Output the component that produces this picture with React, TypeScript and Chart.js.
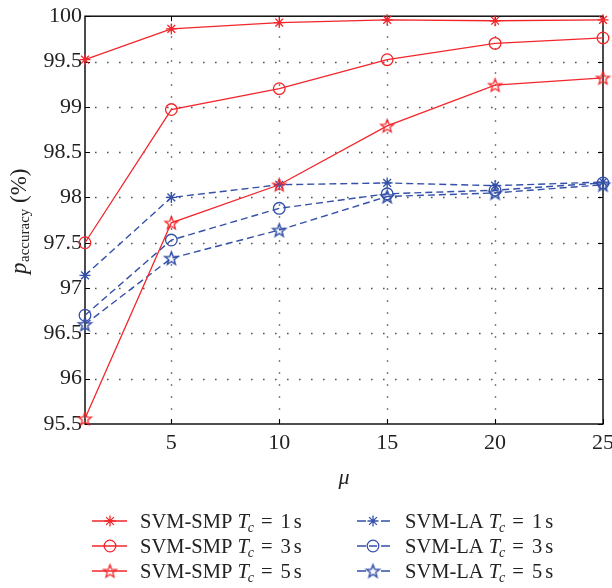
import React, { useEffect, useRef } from 'react';
import { Chart, registerables } from 'chart.js';

Chart.register(...registerables);

// ---------- data ----------
const muValues = [1, 5, 10, 15, 20, 25];
const xTickValues = [5, 10, 15, 20, 25];
const yMin = 95.5;
const yMax = 100;
const yStep = 0.5;

const smpTc1 = [99.52, 99.86, 99.93, 99.96, 99.95, 99.96];
const smpTc3 = [97.5, 98.97, 99.2, 99.52, 99.7, 99.76];
const smpTc5 = [95.56, 97.72, 98.14, 98.79, 99.24, 99.32];
const laTc1 = [97.14, 98.0, 98.14, 98.16, 98.13, 98.17];
const laTc3 = [96.7, 97.53, 97.88, 98.04, 98.08, 98.16];
const laTc5 = [96.6, 97.33, 97.64, 98.01, 98.05, 98.14];

const legendMethods = ['SVM-SMP', 'SVM-SMP', 'SVM-SMP', 'SVM-LA', 'SVM-LA', 'SVM-LA'];
const legendTc = ['1', '3', '5', '1', '3', '5'];

const RED = '#f2262b';
const BLUE = '#3450a8';
const FONT = '"Liberation Serif", "Times New Roman", serif';

function makePentagram(color: string, r: number, lw: number): HTMLCanvasElement {
  const s = Math.ceil(r * 2 + lw * 2 + 2);
  const c = document.createElement('canvas');
  c.width = s;
  c.height = s;
  const ctx = c.getContext('2d')!;
  ctx.strokeStyle = color;
  ctx.lineWidth = lw;
  ctx.lineJoin = 'miter';
  ctx.beginPath();
  for (let i = 0; i < 10; i++) {
    const ang = -Math.PI / 2 + (i * Math.PI) / 5;
    const rr = i % 2 === 0 ? r : r * 0.42;
    const x = s / 2 + rr * Math.cos(ang);
    const y = s / 2 + 0.6 + rr * Math.sin(ang);
    if (i === 0) ctx.moveTo(x, y);
    else ctx.lineTo(x, y);
  }
  ctx.closePath();
  ctx.stroke();
  return c;
}

export default function App() {
  const ref = useRef<HTMLCanvasElement | null>(null);

  useEffect(() => {
    const canvas = ref.current!;
    const redStar = makePentagram(RED, 6.8, 1.3);
    const blueStar = makePentagram(BLUE, 6.8, 1.5);

    const mk = (vals: number[]) => muValues.map((x, i) => ({ x, y: vals[i] }));

    const seriesData = [smpTc1, smpTc3, smpTc5, laTc1, laTc3, laTc5];
    const styles: any[] = [
      { color: RED, point: 'star', radius: 5.5, dash: [] },
      { color: RED, point: 'circle', radius: 5.8, dash: [] },
      { color: RED, point: redStar, radius: 6, dash: [] },
      { color: BLUE, point: 'star', radius: 5.5, dash: [] as number[] },
      { color: BLUE, point: 'circle', radius: 5.8, dash: [] as number[] },
      { color: BLUE, point: blueStar, radius: 6, dash: [] as number[] },
    ];
    styles[3].dash = [7, 4];
    styles[4].dash = [7, 4];
    styles[5].dash = [7, 4];

    const datasets = seriesData.map((vals, i) => ({
      label: legendMethods[i] + ' Tc = ' + legendTc[i] + ' s',
      data: mk(vals),
      borderColor: styles[i].color,
      backgroundColor: 'rgba(0,0,0,0)',
      borderWidth: styles[i].dash.length ? 1.4 : 1.3,
      borderDash: styles[i].dash,
      pointStyle: styles[i].point,
      pointRadius: styles[i].radius,
      pointBorderWidth: 1.3,
      pointBorderColor: styles[i].color,
      pointBackgroundColor: 'rgba(0,0,0,0)',
      tension: 0,
      clip: false as any,
    }));

    const decor = {
      id: 'decor',
      beforeDatasetsDraw(chart: any) {
        const { ctx, chartArea: a, scales } = chart;
        const xs = scales.x;
        const ys = scales.y;
        ctx.save();
        // dotted grid
        ctx.strokeStyle = '#555';
        ctx.lineWidth = 1.4;
        ctx.setLineDash([1.6, 10.4]);
        for (let v = yMin + yStep; v < yMax - 1e-9; v += yStep) {
          const y = Math.round(ys.getPixelForValue(v)) + 0.5;
          ctx.beginPath();
          ctx.moveTo(a.left + 10, y);
          ctx.lineTo(a.right, y);
          ctx.stroke();
        }
        xTickValues.forEach((v) => {
          if (v >= 25) return;
          const x = Math.round(xs.getPixelForValue(v)) + 0.5;
          ctx.beginPath();
          ctx.moveTo(x, a.top + 8);
          ctx.lineTo(x, a.bottom);
          ctx.stroke();
        });
        ctx.setLineDash([]);
        // inward ticks
        ctx.strokeStyle = '#000';
        ctx.lineWidth = 1;
        const tl = 5;
        for (let v = yMin; v <= yMax + 1e-9; v += yStep) {
          const y = Math.round(ys.getPixelForValue(v)) + 0.5;
          ctx.beginPath();
          ctx.moveTo(a.left, y);
          ctx.lineTo(a.left + tl, y);
          ctx.moveTo(a.right, y);
          ctx.lineTo(a.right - tl, y);
          ctx.stroke();
        }
        xTickValues.forEach((v) => {
          const x = Math.round(xs.getPixelForValue(v)) + 0.5;
          ctx.beginPath();
          ctx.moveTo(x, a.bottom);
          ctx.lineTo(x, a.bottom - tl);
          ctx.moveTo(x, a.top);
          ctx.lineTo(x, a.top + tl);
          ctx.stroke();
        });
        // box
        ctx.lineWidth = 1.4;
        ctx.strokeRect(a.left, a.top, a.right - a.left, a.bottom - a.top);
        ctx.restore();
      },
      afterDraw(chart: any) {
        const { ctx, chartArea: a, scales } = chart;
        const xs = scales.x;
        ctx.save();
        ctx.fillStyle = '#222';
        // x tick labels (placed with the x scale)
        ctx.font = '22px ' + FONT;
        ctx.textAlign = 'center';
        ctx.textBaseline = 'middle';
        xTickValues.forEach((v) => {
          ctx.fillText(String(v), xs.getPixelForValue(v), a.bottom + 19);
        });
        // x title
        ctx.font = 'italic 22px ' + FONT;
        ctx.textAlign = 'center';
        ctx.textBaseline = 'alphabetic';
        ctx.fillText('\u03bc', (a.left + a.right) / 2, 484);
        // y title
        ctx.save();
        ctx.translate(26, 274);
        ctx.rotate(-Math.PI / 2);
        ctx.textAlign = 'left';
        ctx.font = 'italic 23px ' + FONT;
        ctx.fillText('p', 0, 0);
        let px = ctx.measureText('p').width + 0.5;
        ctx.font = '15px ' + FONT;
        ctx.fillText('accuracy', px, 3);
        px += ctx.measureText('accuracy').width;
        ctx.font = '23px ' + FONT;
        ctx.fillText(' (%)', px, 0);
        ctx.restore();

        // legend
        const rowsY = [521, 546, 571];
        const cols = [
          { lineA: 92, lineB: 127, mx: 110, tx: 140 },
          { lineA: 357, lineB: 390, mx: 373, tx: 405 },
        ];
        for (let i = 0; i < 6; i++) {
          const col = cols[i < 3 ? 0 : 1];
          const y = rowsY[i % 3];
          const st = styles[i];
          ctx.strokeStyle = st.color;
          ctx.lineWidth = 1.4;
          ctx.beginPath();
          if (st.dash.length) {
            ctx.moveTo(col.lineA, y);
            ctx.lineTo(col.lineA + 9, y);
            ctx.moveTo(col.lineB - 9, y);
            ctx.lineTo(col.lineB, y);
            if (st.point === 'circle') {
              ctx.moveTo(col.mx - 4, y);
              ctx.lineTo(col.mx + 4, y);
            }
          } else {
            ctx.moveTo(col.lineA, y);
            ctx.lineTo(col.lineB, y);
          }
          ctx.stroke();
          // marker
          ctx.lineWidth = 1.3;
          if (st.point === 'star') {
            const r = 5.5;
            ctx.beginPath();
            for (let k = 0; k < 4; k++) {
              const ang = (k * Math.PI) / 4;
              ctx.moveTo(col.mx - r * Math.cos(ang), y - r * Math.sin(ang));
              ctx.lineTo(col.mx + r * Math.cos(ang), y + r * Math.sin(ang));
            }
            ctx.stroke();
          } else if (st.point === 'circle') {
            ctx.beginPath();
            ctx.arc(col.mx, y, 5.8, 0, Math.PI * 2);
            ctx.stroke();
          } else {
            const img = st.point as HTMLCanvasElement;
            ctx.drawImage(img, col.mx - img.width / 2, y - img.height / 2);
          }
          // text
          ctx.fillStyle = '#222';
          ctx.textAlign = 'left';
          ctx.textBaseline = 'alphabetic';
          const by = y + 7;
          let tx = col.tx;
          ctx.font = '20.5px ' + FONT;
          const t1 = legendMethods[i] + ' ';
          ctx.fillText(t1, tx, by);
          tx += ctx.measureText(t1).width;
          ctx.font = 'italic 20.5px ' + FONT;
          ctx.fillText('T', tx, by);
          tx += ctx.measureText('T').width - 1;
          ctx.font = 'italic 14px ' + FONT;
          ctx.fillText('c', tx, by + 4);
          tx += ctx.measureText('c').width + 7;
          ctx.font = '20.5px ' + FONT;
          ctx.fillText('=', tx, by);
          tx += ctx.measureText('=').width + 8;
          ctx.fillText(legendTc[i], tx, by);
          tx += ctx.measureText(legendTc[i]).width + 3;
          ctx.fillText('s', tx, by);
        }
        ctx.restore();
      },
    };

    const chart = new Chart(canvas, {
      type: 'line',
      data: { datasets },
      options: {
        animation: false,
        responsive: false,
        maintainAspectRatio: false,
        layout: { padding: { left: 0, right: 9, top: 16, bottom: 0 } },
        plugins: {
          legend: { display: false },
          tooltip: { enabled: false },
        },
        scales: {
          x: {
            type: 'linear',
            min: muValues[0],
            max: muValues[muValues.length - 1],
            grid: { display: false, drawTicks: false },
            border: { display: false },
            afterBuildTicks: (scale: any) => {
              scale.ticks = xTickValues.map((v) => ({ value: v }));
            },
            afterFit: (scale: any) => {
              scale.height = 164;
            },
            ticks: { display: false },
          },
          y: {
            type: 'linear',
            min: yMin,
            max: yMax,
            grid: { display: false, drawTicks: false },
            border: { display: false },
            afterFit: (scale: any) => {
              scale.width = 85;
            },
            ticks: {
              color: '#222',
              padding: 3,
              stepSize: yStep,
              font: { family: FONT, size: 22 },
              callback: (v: any) => String(Number(Number(v).toFixed(1))),
            },
          },
        },
      },
      plugins: [decor],
    });

    return () => chart.destroy();
  }, []);

  return (
    <div style={{ position: 'fixed', left: 0, top: 0, width: 612, height: 588, background: '#fff' }}>
      <canvas ref={ref} width={612} height={588} style={{ width: 612, height: 588, display: 'block' }} />
    </div>
  );
}
